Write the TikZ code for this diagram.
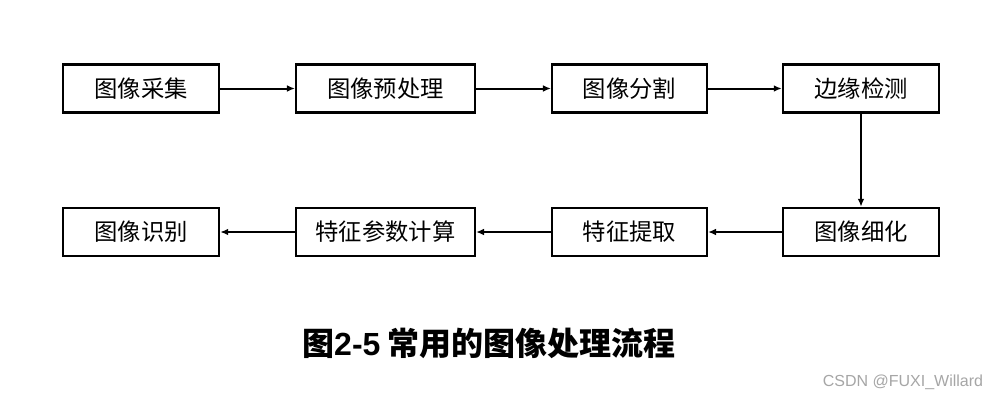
\documentclass[tikz,border=0pt]{standalone}
\usepackage{fontspec}
\setmainfont{Liberation Sans}
\newfontfamily\cjk{Noto Sans CJK SC}
\usetikzlibrary{arrows.meta}
\begin{document}
\begin{tikzpicture}[x=0.75pt,y=-0.75pt,
  box/.style={draw,line width=1.8pt,minimum height=36pt,inner sep=0pt,font=\cjk\fontsize{17.5}{17.5}\selectfont},
  conn/.style={line width=1.5pt,-{Latex[length=6pt,width=5pt]}}]
\useasboundingbox[fill=white] (0,0) rectangle (999,400);
\node[box,minimum width=117pt] (a) at (141,88.5) {图像采集};
\node[box,minimum width=134pt] (b) at (385.5,88.5) {图像预处理};
\node[box,minimum width=116pt] (c) at (629.5,88.5) {图像分割};
\node[box,minimum width=117pt] (d) at (861,88.5) {边缘检测};
\node[box,minimum width=117pt] (h) at (141,232) {图像识别};
\node[box,minimum width=134pt] (g) at (385.5,232) {特征参数计算};
\node[box,minimum width=116pt] (f) at (629.5,232) {特征提取};
\node[box,minimum width=117pt] (e) at (861,232) {图像细化};
\draw[conn] (a) -- (b);
\draw[conn] (b) -- (c);
\draw[conn] (c) -- (d);
\draw[conn] (d) -- (e);
\draw[conn] (e) -- (f);
\draw[conn] (f) -- (g);
\draw[conn] (g) -- (h);
\node[font=\cjk\bfseries\fontsize{24}{24}\selectfont] (cap) at (489,343) {图{\rmfamily\bfseries 2-5} 常用的图像处理流程};
\node[font=\fontsize{12}{12}\selectfont,text=black!35] (wm) at (903,382) {CSDN @FUXI\_Willard};
\end{tikzpicture}
\end{document}
